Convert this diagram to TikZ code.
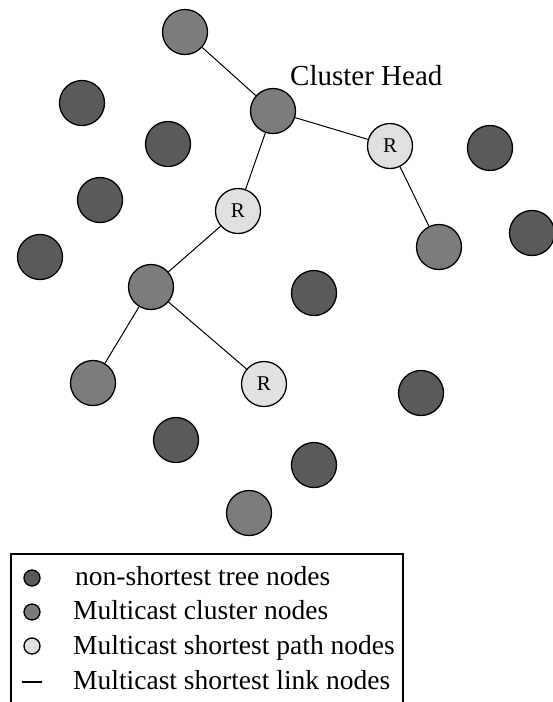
\documentclass[tikz,border=0pt]{standalone}
\usepackage{fontspec}
\setmainfont{Liberation Serif}
\begin{document}
\begin{tikzpicture}[x=1pt,y=-1pt,
  nodebase/.style={circle,draw=black,line width=1.3pt,minimum size=45pt,inner sep=0pt},
  darknode/.style={nodebase,fill=darkgray0},
  clusternode/.style={nodebase,fill=midgray0},
  pathnode/.style={nodebase,fill=lightgray0,font=\fontsize{21}{24}\selectfont},
  link/.style={draw=black,line width=1pt},
  legendtext/.style={anchor=base west,inner sep=0pt,font=\fontsize{27.5}{32}\selectfont},
  legenddot/.style={circle,draw=black,line width=1.3pt,minimum size=16pt,inner sep=0pt}
]
\definecolor{darkgray0}{HTML}{5A5A5A}
\definecolor{midgray0}{HTML}{7C7C7C}
\definecolor{lightgray0}{HTML}{E0E0E0}
\useasboundingbox (0,0) rectangle (553,702);

% non-shortest tree nodes
\node[darknode] (d1) at (82,103) {};
\node[darknode] (d2) at (168,144) {};
\node[darknode] (d3) at (100,200) {};
\node[darknode] (d4) at (40,257) {};
\node[darknode] (d5) at (490,148) {};
\node[darknode] (d6) at (532,233) {};
\node[darknode] (d7) at (314,293) {};
\node[darknode] (d8) at (421,393) {};
\node[darknode] (d9) at (176,440) {};
\node[darknode] (d10) at (314,465) {};

% multicast cluster nodes
\node[clusternode] (top) at (185,32) {};
\node[clusternode] (head) at (273,111) {};
\node[clusternode] (east) at (439,247) {};
\node[clusternode] (junc) at (151,287) {};
\node[clusternode] (sw) at (93,383) {};
\node[clusternode] (south) at (249,513) {};

% multicast shortest path nodes
\node[pathnode] (r1) at (390,146) {R};
\node[pathnode] (r2) at (238,211) {R};
\node[pathnode] (r3) at (264,384) {R};

% shortest links
\draw[link] (top) -- (head);
\draw[link] (head) -- (r1);
\draw[link] (r1) -- (east);
\draw[link] (head) -- (r2);
\draw[link] (r2) -- (junc);
\draw[link] (junc) -- (sw);
\draw[link] (junc) -- (r3);

\node[anchor=base west,inner sep=0pt,font=\fontsize{29}{34}\selectfont] (chlabel) at (290,85) {Cluster Head};

% legend
\draw[line width=1.2pt] (11,712) -- (11,554) -- (403,554) -- (403,712);
\node[legenddot,fill=darkgray0] (ld1) at (32,578) {};
\node[legenddot,fill=midgray0] (ld2) at (32,612) {};
\node[legenddot,fill=lightgray0] (ld3) at (32,646) {};
\coordinate (la) at (22,682);
\coordinate (lb) at (42,682);
\draw[line width=1.3pt] (la) -- (lb);
\node[legendtext] (lt1) at (75,585) {non-shortest tree nodes};
\node[legendtext] (lt2) at (73,619) {Multicast cluster nodes};
\node[legendtext] (lt3) at (73,654) {Multicast shortest path nodes};
\node[legendtext] (lt4) at (73,689) {Multicast shortest link nodes};
\end{tikzpicture}
\end{document}
